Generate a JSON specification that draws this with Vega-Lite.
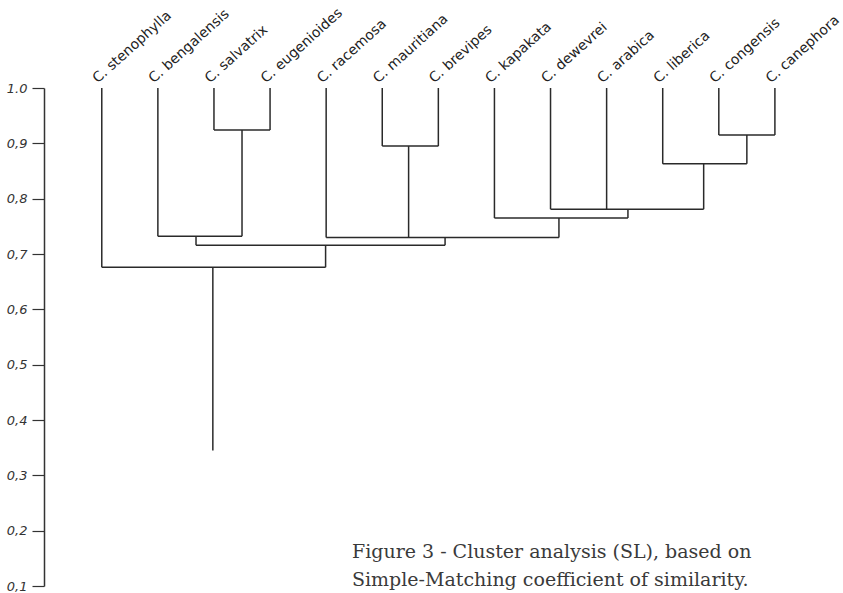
{
  "$schema": "https://vega.github.io/schema/vega-lite/v6.json",
  "width": 787,
  "height": 498,
  "autosize": "none",
  "padding": {"left": 44, "top": 88, "right": 12, "bottom": 7},
  "background": "white",
  "config": {"view": {"stroke": null}},
  "title": {
    "text": ["Figure 3 - Cluster analysis (SL), based on", "Simple-Matching coefficient of similarity."],
    "orient": "bottom",
    "anchor": "start",
    "align": "left",
    "frame": "group",
    "dx": 308,
    "offset": -50,
    "font": "DejaVu Serif",
    "fontSize": 19,
    "fontWeight": "normal",
    "color": "#3a3a3a",
    "lineHeight": 28
  },
  "datasets": {
    "segments": [
      {"x": 1, "y": 1.0, "x2": 1, "y2": 0.676},
      {"x": 2, "y": 1.0, "x2": 2, "y2": 0.732},
      {"x": 3, "y": 1.0, "x2": 3, "y2": 0.924},
      {"x": 4, "y": 1.0, "x2": 4, "y2": 0.924},
      {"x": 5, "y": 1.0, "x2": 5, "y2": 0.730},
      {"x": 6, "y": 1.0, "x2": 6, "y2": 0.895},
      {"x": 7, "y": 1.0, "x2": 7, "y2": 0.895},
      {"x": 8, "y": 1.0, "x2": 8, "y2": 0.765},
      {"x": 9, "y": 1.0, "x2": 9, "y2": 0.781},
      {"x": 10, "y": 1.0, "x2": 10, "y2": 0.781},
      {"x": 11, "y": 1.0, "x2": 11, "y2": 0.863},
      {"x": 12, "y": 1.0, "x2": 12, "y2": 0.915},
      {"x": 13, "y": 1.0, "x2": 13, "y2": 0.915},
      {"x": 3, "y": 0.924, "x2": 4, "y2": 0.924},
      {"x": 6, "y": 0.895, "x2": 7, "y2": 0.895},
      {"x": 12, "y": 0.915, "x2": 13, "y2": 0.915},
      {"x": 11, "y": 0.863, "x2": 12.5, "y2": 0.863},
      {"x": 9, "y": 0.781, "x2": 11.73, "y2": 0.781},
      {"x": 8, "y": 0.765, "x2": 10.38, "y2": 0.765},
      {"x": 5, "y": 0.730, "x2": 9.15, "y2": 0.730},
      {"x": 2, "y": 0.732, "x2": 3.5, "y2": 0.732},
      {"x": 2.68, "y": 0.716, "x2": 7.12, "y2": 0.716},
      {"x": 1, "y": 0.676, "x2": 4.99, "y2": 0.676},
      {"x": 3.5, "y": 0.924, "x2": 3.5, "y2": 0.732},
      {"x": 6.47, "y": 0.895, "x2": 6.47, "y2": 0.730},
      {"x": 12.5, "y": 0.915, "x2": 12.5, "y2": 0.863},
      {"x": 11.73, "y": 0.863, "x2": 11.73, "y2": 0.781},
      {"x": 10.38, "y": 0.781, "x2": 10.38, "y2": 0.765},
      {"x": 9.15, "y": 0.765, "x2": 9.15, "y2": 0.730},
      {"x": 2.68, "y": 0.732, "x2": 2.68, "y2": 0.716},
      {"x": 7.12, "y": 0.730, "x2": 7.12, "y2": 0.716},
      {"x": 4.99, "y": 0.716, "x2": 4.99, "y2": 0.676},
      {"x": 2.98, "y": 0.676, "x2": 2.98, "y2": 0.345}
    ],
    "leaves": [
      {"pos": 1, "label": "C. stenophylla"},
      {"pos": 2, "label": "C. bengalensis"},
      {"pos": 3, "label": "C. salvatrix"},
      {"pos": 4, "label": "C. eugenioides"},
      {"pos": 5, "label": "C. racemosa"},
      {"pos": 6, "label": "C. mauritiana"},
      {"pos": 7, "label": "C. brevipes"},
      {"pos": 8, "label": "C. kapakata"},
      {"pos": 9, "label": "C. dewevrei"},
      {"pos": 10, "label": "C. arabica"},
      {"pos": 11, "label": "C. liberica"},
      {"pos": 12, "label": "C. congensis"},
      {"pos": 13, "label": "C. canephora"}
    ]
  },
  "layer": [
    {
      "data": {"name": "segments"},
      "mark": {"type": "rule", "color": "#2a2a2a", "strokeWidth": 1.5},
      "encoding": {
        "x": {"field": "x", "type": "quantitative", "scale": {"domain": [-0.03, 14], "nice": false, "zero": false}, "axis": null},
        "x2": {"field": "x2"},
        "y": {
          "field": "y",
          "type": "quantitative",
          "scale": {"domain": [0.1, 1.0], "nice": false, "zero": false},
          "axis": {
            "title": null,
            "grid": false,
            "values": [0.1, 0.2, 0.3, 0.4, 0.5, 0.6, 0.7, 0.8, 0.9, 1.0],
            "labelExpr": "datum.value >= 0.99 ? '1.0' : replace(format(datum.value, '.1f'), '.', ',')",
            "tickSize": 12,
            "tickColor": "#333333",
            "tickWidth": 1.2,
            "domainColor": "#333333",
            "domainWidth": 1.5,
            "labelFont": "DejaVu Sans",
            "labelFontStyle": "italic",
            "labelFontSize": 13,
            "labelColor": "#333333",
            "labelPadding": 5
          }
        },
        "y2": {"field": "y2"}
      }
    },
    {
      "data": {"name": "leaves"},
      "mark": {"type": "text", "angle": -42, "align": "left", "baseline": "alphabetic", "dx": 0, "dy": -6, "font": "DejaVu Sans", "fontSize": 14, "color": "#222222"},
      "encoding": {
        "x": {"field": "pos", "type": "quantitative"},
        "y": {"datum": 1},
        "text": {"field": "label"}
      }
    }
  ]
}
